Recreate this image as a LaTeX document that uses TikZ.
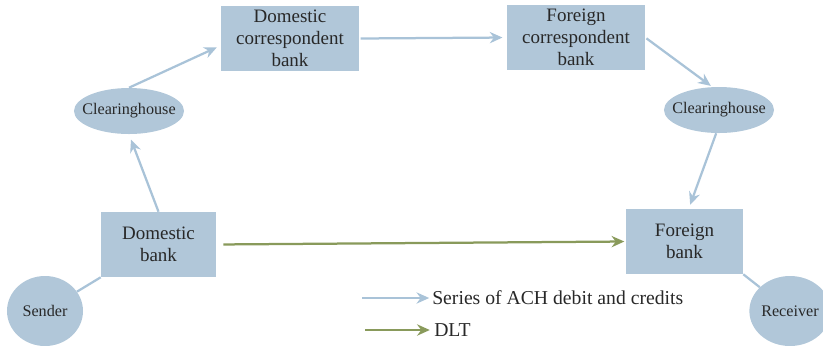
\documentclass[tikz,border=0pt]{standalone}
\usepackage{fontspec}
\setmainfont{Liberation Serif}
\usepackage{tikz}
\usetikzlibrary{arrows.meta,positioning,calc,shapes.geometric}
\definecolor{achblue}{RGB}{169,195,216}
\definecolor{boxfill}{RGB}{177,199,217}
\definecolor{dltgreen}{RGB}{137,154,91}
\definecolor{inkgray}{RGB}{40,40,40}

\tikzset{
  bankbox/.style={rectangle, fill=boxfill, minimum height=1.625cm, align=center,
    inner sep=0pt, text=inkgray, font=\fontsize{13.5}{15.6}\selectfont},
  clearing/.style={ellipse, fill=boxfill, minimum width=2.75cm, minimum height=1.15cm,
    inner xsep=-0.3cm, inner ysep=0pt, text=inkgray, font=\fontsize{11.5}{13}\selectfont},
  party/.style={ellipse, fill=boxfill, minimum width=1.9cm, minimum height=1.75cm,
    inner sep=0pt, text=inkgray, font=\fontsize{11.5}{13}\selectfont},
  achflow/.style={draw=achblue, line width=1.6pt, -{Stealth[length=9pt,width=8pt]}},
  dltflow/.style={draw=dltgreen, line width=1.6pt, -{Stealth[length=9pt,width=8pt]}},
  link/.style={draw=achblue, line width=1.6pt},
  legendtxt/.style={anchor=west, inner sep=0pt, text=inkgray, font=\fontsize{14}{16}\selectfont}
}

\begin{document}
\begin{tikzpicture}[x=0.025cm, y=-0.025cm]
  \clip (0,0) rectangle (823,345);

  \node[bankbox, minimum width=3.45cm] (dcb) at (290,38.5) {Domestic\\correspondent\\bank};
  \node[bankbox, minimum width=3.45cm] (fcb) at (576,37.5) {Foreign\\correspondent\\bank};
  \node[clearing] (chL) at (129,111) {Clearinghouse};
  \node[clearing] (chR) at (719,110) {Clearinghouse};
  \node[bankbox, minimum width=2.875cm] (db) at (158.5,244.5) {Domestic\\bank};
  \node[bankbox, minimum width=2.925cm] (fb) at (684.5,241.5) {Foreign\\bank};
  \node[party] (snd) at (45,311) {Sender};
  \node[party] (rcv) at (790,311) {Receiver};

  \draw[link] (snd) -- (db.south west);
  \draw[link] (fb.south east) -- (rcv);

  \draw[achflow, shorten >=4pt] (db.north) -- (chL.south);
  \draw[achflow, shorten >=3pt] (chL.north) -- ([yshift=-5pt]dcb.west);
  \draw[achflow, shorten <=1pt, shorten >=3pt] (dcb.east) -- (fcb.west);
  \draw[achflow, shorten <=1pt, shorten >=1pt] (fcb.east) -- ([xshift=-5pt]chR.north);
  \draw[achflow, shorten >=3pt] ([xshift=-2pt]chR.south) -- ([xshift=3pt]fb.north);
  \draw[dltflow, shorten <=5pt, shorten >=1pt] (db.east) -- (fb.west);

  \coordinate (ka) at (362,298);
  \coordinate (kb) at (365,330);
  \node[legendtxt] (ta) at (432,298) {Series of ACH debit and credits};
  \node[legendtxt] (tb) at (434,330) {DLT};
  \draw[achflow, shorten >=2pt] (ka) -- (ta.west);
  \draw[dltflow, shorten >=3pt] (kb) -- (tb.west);
\end{tikzpicture}
\end{document}
